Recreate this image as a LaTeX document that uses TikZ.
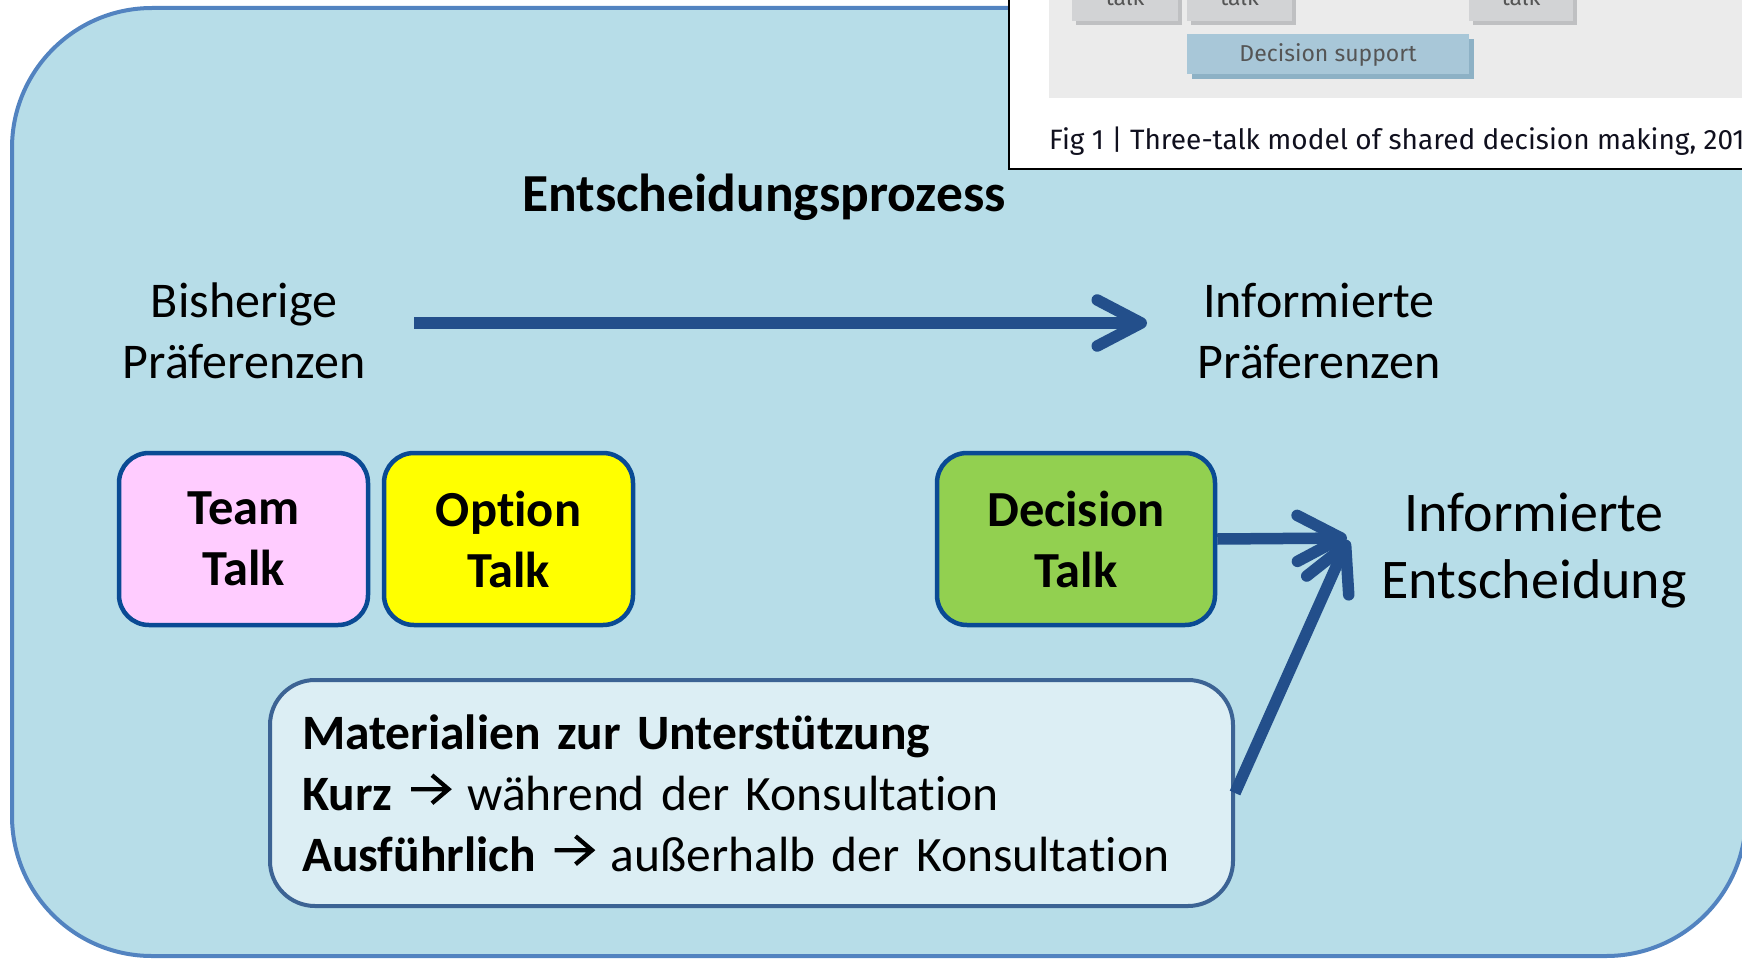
\documentclass[tikz,border=0pt]{standalone}
\usepackage{fontspec}
\setmainfont{Carlito}[Ligatures=NoCommon]
\newfontfamily\figfont{Fira Sans}
\usetikzlibrary{arrows.meta}
\definecolor{bgblue}{HTML}{B7DDE8}
\definecolor{bgborder}{HTML}{5283C0}
\definecolor{boxborder}{HTML}{0A4A94}
\definecolor{arrowblue}{HTML}{234F8B}
\definecolor{teampink}{HTML}{FFCCFF}
\definecolor{optyellow}{HTML}{FFFF00}
\definecolor{decgreen}{HTML}{92D050}
\definecolor{matfill}{HTML}{DCEEF4}
\definecolor{matborder}{HTML}{3C6394}
\definecolor{panelgray}{HTML}{EBEBEB}
\definecolor{talkgray}{HTML}{D2D3D5}
\definecolor{talkshadow}{HTML}{BFC0C2}
\definecolor{supfill}{HTML}{A8C7D8}
\definecolor{supshadow}{HTML}{8DB1C5}
\definecolor{figtext}{HTML}{555555}
\definecolor{captext}{HTML}{10101E}
\newcommand{\txtarrow}{\tikz[baseline=0pt,x=1pt,y=1pt,sharp corners]{\draw[black,line width=4.3pt,line cap=butt,line join=miter,sharp corners] (0,21)--(37,21) (21,7)--(37.5,21)--(21,35);}}
\tikzset{
  talkbox/.style={draw=boxborder, line width=4.5pt, rounded corners=30pt,
    minimum width=249pt, minimum height=172pt, align=center, inner sep=0pt,
    font=\fontsize{50.5}{61}\selectfont\bfseries},
  lbl/.style={align=center, inner sep=0pt, font=\fontsize{50}{61}\selectfont},
  bigarrow/.style={draw=arrowblue, line width=11.5pt,
    -{Straight Barb[length=44pt,width=46pt,round]}},
  panelbox/.style={inner sep=0pt, outer sep=0pt},
  figlbl/.style={inner sep=0pt, text=figtext, font=\figfont\fontsize{23}{26}\selectfont},
}
\begin{document}
\begin{tikzpicture}[x=1pt,y=-1pt]
\useasboundingbox (0,0) rectangle (1742,958);
\begin{scope}
\clip (0,0) rectangle (1742,958);
% background rounded panel
\path[fill=bgblue, draw=bgborder, line width=4pt, rounded corners=140pt]
  (12,8) rectangle (1746,956);

% inset figure (top right)
\path[fill=white, draw=black, line width=2.5pt] (1009,-10) rectangle (1760,169);
\path[fill=panelgray] (1049,-10) rectangle (1760,98);
\path[fill=talkshadow] (1076,-10) rectangle (1182,25);
\path[fill=talkgray] (1072,-10) rectangle (1178,21);
\path[fill=talkshadow] (1191,-10) rectangle (1296,25);
\path[fill=talkgray] (1187,-10) rectangle (1292,21);
\path[fill=talkshadow] (1473,-10) rectangle (1577,25);
\path[fill=talkgray] (1469,-10) rectangle (1573,21);
\node[figlbl, anchor=base] (t1) at (1125,6) {talk};
\node[figlbl, anchor=base] (t2) at (1239.5,6) {talk};
\node[figlbl, anchor=base] (t3) at (1521,6) {talk};
\path[fill=supshadow] (1192,39) rectangle (1474,79);
\node[panelbox, fill=supfill, minimum width=282pt, minimum height=40pt] (sup) at (1328,54) {};
\node[figlbl] (suptext) at (1328,55) {Decision support};
\node[inner sep=0pt, anchor=base west, text=captext, font=\figfont\fontsize{28}{30}\selectfont] (cap) at (1049,149)
  {Fig 1 | Three-talk model of shared decision making, 2012};

% title
\node[inner sep=0pt, font=\fontsize{53.5}{62}\selectfont\bfseries] (title) at (764,197) {Entscheidungsprozess};

% preference labels
\node[lbl] (bish) at (244,331) {Bisherige\\Präferenzen};
\node[lbl] (infpref) at (1319,331) {Informierte\\Präferenzen};
\node[lbl, font=\fontsize{56}{67}\selectfont] (infent) at (1534,551) {Informierte\\Entscheidung};

% talk boxes
\node[talkbox, fill=teampink] (team) at (243.5,539) {Team\\Talk};
\node[talkbox, fill=optyellow] (option) at (508.5,539) {Option\\Talk};
\node[talkbox, fill=decgreen, minimum width=278pt] (decision) at (1076,539) {Decision\\Talk};

% materials box
\node[draw=matborder, fill=matfill, line width=4pt, rounded corners=45pt,
  minimum height=226pt, text width=899pt, inner xsep=32pt, inner ysep=0pt, align=left,
  font=\fontsize{49.5}{61}\selectfont] (mat) at (751.5,793)
  {\textbf{Materialien zur Unterstützung}\\
   \textbf{Kurz} \txtarrow{} während der Konsultation\\
   \textbf{Ausführlich} \txtarrow{} außerhalb der Konsultation};

% arrows
\coordinate (arrS) at (414,323);
\coordinate (arrE) at (1147,323);
\coordinate (tipA) at (1347,538);
\coordinate (tipB) at (1348,540);
\draw[bigarrow] (arrS) -- (arrE);
\draw[bigarrow] (decision.east) -- (tipA);
\draw[bigarrow] (mat.east) -- (tipB);
\end{scope}
\end{tikzpicture}
\end{document}
